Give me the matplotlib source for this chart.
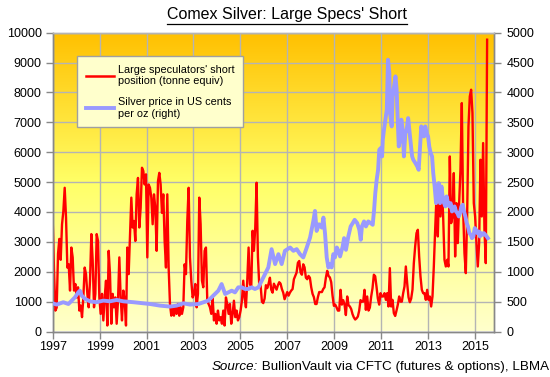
import numpy as np
import matplotlib
matplotlib.use("Agg")
import matplotlib.pyplot as plt
from matplotlib.colors import LinearSegmentedColormap
from matplotlib.lines import Line2D

plt.rcParams['font.family'] = ['Liberation Sans', 'DejaVu Sans']

# ---------------- data ----------------
title = "Comex Silver: Large Specs' Short"
red_label = "Large speculators' short\nposition (tonne equiv)"
blue_label = "Silver price in US cents\nper oz (right)"
source_italic = "Source:"
source_rest = " BullionVault via CFTC (futures & options), LBMA"

# Large speculators' short position (tonnes), roughly 3-weekly from start of 1997
red_start = 1997.0
red_step = 0.0568
red_vals = [
    # 1997 - early 2003
    3750, 2030, 700, 800, 2600, 3100, 2400, 3590, 4030, 4810,
    3810, 2140, 2250, 1370, 2810, 2480, 1370, 1590, 1140, 1480,
    700, 870, 480, 1140, 2140, 1920, 1260, 810, 1700, 3260,
    2370, 810, 1260, 3260, 3030, 1140, 590, 1260, 370, 1140,
    1700, 200, 2700, 1920, 260, 1260, 810, 1140, 260, 1030,
    2480, 1140, 370, 1370, 1030, 200, 2810, 1920, 3150, 4480,
    3480, 3700, 3030, 4590, 5140, 3480, 4140, 5480, 5370, 4920,
    5260, 2480, 4920, 4810, 4480, 3590, 4590, 4140, 2700, 5030,
    5310, 4920, 3970, 4590, 3030, 2140, 4590, 2140, 920, 530,
    810, 530, 810, 590, 920, 530, 810, 590, 810, 2250,
    1920, 3700, 4810, 2480, 1700, 1140, 1260, 1590, 810, 1260,
    # 2003 - 2009
    4480, 3590, 1700, 1480, 2700, 2810, 1030, 920, 810, 590,
    1140, 370, 590, 260, 700, 370, 480, 260, 700, 200,
    1140, 920, 590, 920, 260, 590, 1030, 480, 700, 370,
    480, 700, 1030, 1700, 1140, 810, 1700, 2810, 1590, 1480,
    3370, 2700, 3480, 4980, 2500, 1550, 1550, 1000, 950, 1100,
    1550, 1450, 1600, 1800, 1400, 1300, 1600, 1500, 1400, 1550,
    1650, 1600, 1420, 1300, 1080, 1200, 1320, 1200, 1300, 1370,
    1420, 1750, 1860, 1970, 2300, 2360, 1980, 1900, 2250, 2150,
    1800, 1750, 1860, 1800, 1480, 1260, 1150, 920, 920, 1150,
    1320, 1320, 1320, 1420, 1480, 1800, 2030, 1860, 1810, 1650,
    1200, 860, 900, 810, 700, 700,
    # 2009 - 2015
    1395, 900, 1050, 900, 550, 1172, 880, 837, 750, 580,
    470, 400, 440, 502, 700, 1050, 1000, 1000, 1395, 725,
    1172, 700, 800, 1172, 1450, 1900, 1850, 1500, 1100, 900,
    1283, 1172, 1172, 1283, 1060, 1283, 837, 2121, 837, 1060,
    614, 520, 700, 900, 1172, 1000, 1000, 1283, 1507, 2176,
    1618, 1150, 980, 1100, 1400, 2288, 2846, 3292, 3404, 2511,
    1842, 1395, 1283, 1283, 1060, 1395, 1060, 1172, 837, 1172,
    2176, 3404, 4520, 3181, 4967, 3850, 4855, 3850, 2400, 2176,
    2400, 2176, 5859, 3627, 3850, 5301, 2511, 4297, 2958, 4297,
    5413, 7645, 4074, 2623, 1953, 3850, 6864, 7868, 8092, 7310,
    4297, 3850, 2958, 2176, 2958, 5748, 3850, 6306, 3404, 2288,
    9766,
]

# Silver price, US cents per oz
blue_years = [
    1997.00, 1997.17, 1997.45, 1997.67, 1997.81, 1997.95, 1998.09, 1998.16,
    1998.24, 1998.38, 1998.59, 1998.87, 1999.16, 1999.44, 1999.73, 2000.01,
    2000.44, 2000.86, 2001.15, 2001.57, 2002.00, 2002.28, 2002.57, 2002.85,
    2003.21, 2003.63, 2003.92, 2004.06, 2004.20, 2004.35, 2004.49, 2004.63,
    2004.77, 2004.91, 2005.06, 2005.20, 2005.34, 2005.48, 2005.62, 2005.77,
    2005.91, 2006.05, 2006.19, 2006.33, 2006.48, 2006.62, 2006.76, 2006.90,
    2007.12, 2007.26, 2007.40, 2007.54, 2007.68, 2007.83, 2007.97, 2008.11,
    2008.18, 2008.25, 2008.35, 2008.47, 2008.54, 2008.61, 2008.68, 2008.75,
    2008.82, 2008.89, 2008.96, 2009.03, 2009.11, 2009.18,
    2009.25, 2009.36, 2009.42, 2009.50, 2009.60, 2009.70, 2009.79, 2009.87,
    2009.98, 2010.07, 2010.13, 2010.18, 2010.27, 2010.35, 2010.45, 2010.55,
    2010.64, 2010.70, 2010.75, 2010.81, 2010.87, 2010.92, 2010.98, 2011.04,
    2011.07, 2011.12, 2011.18, 2011.24, 2011.29, 2011.35, 2011.38, 2011.45,
    2011.49, 2011.55, 2011.61, 2011.66, 2011.69, 2011.75, 2011.80, 2011.86,
    2011.92, 2011.97, 2012.03, 2012.09, 2012.15, 2012.20, 2012.26, 2012.32,
    2012.37, 2012.46, 2012.54, 2012.60, 2012.66, 2012.71, 2012.77, 2012.83,
    2012.88, 2012.94, 2013.00, 2013.05, 2013.11, 2013.17, 2013.22, 2013.28,
    2013.34, 2013.39, 2013.45, 2013.51, 2013.57, 2013.62, 2013.68, 2013.74,
    2013.79, 2013.85, 2013.91, 2013.96, 2014.02, 2014.08, 2014.13, 2014.19,
    2014.25, 2014.31, 2014.36, 2014.42, 2014.48, 2014.53, 2014.59, 2014.65,
    2014.70, 2014.76, 2014.82, 2014.87, 2014.93, 2014.99, 2015.04, 2015.10,
    2015.16, 2015.21, 2015.27, 2015.33, 2015.38, 2015.44, 2015.50, 2015.55,
]
blue_vals = [
    472, 450, 490, 460, 517, 572, 655, 683,
    600, 545, 505, 490, 517, 505, 528, 505,
    490, 472, 460, 433, 417, 433, 472, 450,
    460, 517, 628, 683, 794, 628, 655, 683,
    655, 739, 739, 711, 711, 739, 711, 739,
    850, 961, 1072, 1378, 1128, 1294, 1128, 1350,
    1406, 1350, 1378, 1294, 1239, 1406, 1572, 1850,
    2017, 1683, 1794, 1739, 1906, 1628, 1239, 1072,
    1128, 1072, 1294, 1239, 1406, 1350,
    1256, 1423, 1562, 1367, 1590, 1758, 1814, 1869,
    1814, 1702, 1535, 1758, 1842, 1758, 1842, 1814,
    1786, 2037, 2316, 2539, 2706, 3041, 3069, 2930,
    3209, 3376, 3544, 3711, 4548, 4325, 3655, 3432,
    3934, 4102, 4269, 4046, 3711, 3097, 3209, 3544,
    3376, 2930, 3320, 3376, 3571, 3376, 3153, 2930,
    2874, 2818, 2762, 2706, 3097, 3432, 3320, 3264,
    3432, 3320, 3264, 3097, 2986, 2930, 2651, 2427,
    2148, 2260, 2483, 2148, 2427, 2260, 2148, 2093,
    2260, 2148, 2093, 2148, 2009, 2037, 2093, 2009,
    1981, 1925, 1981, 2093, 2121, 2009, 1925, 1814,
    1758, 1646, 1618, 1562, 1590, 1730, 1702, 1646,
    1674, 1590, 1646, 1618, 1646, 1618, 1590, 1562,
]

x_ticks = [1997, 1999, 2001, 2003, 2005, 2007, 2009, 2011, 2013, 2015]
left_ticks = [0, 1000, 2000, 3000, 4000, 5000, 6000, 7000, 8000, 9000, 10000]
right_ticks = [0, 500, 1000, 1500, 2000, 2500, 3000, 3500, 4000, 4500, 5000]

red_years = red_start + np.arange(len(red_vals)) * red_step

# ---------------- figure ----------------
W, H = 550, 377
fig = plt.figure(figsize=(W / 100, H / 100), dpi=100)
fig.patch.set_facecolor('white')
ax = fig.add_axes([52.7 / W, 1 - 331.5 / H, (494 - 52.7) / W, (331.5 - 32.7) / H])
ax2 = ax.twinx()

# gradient background
cmap = LinearSegmentedColormap.from_list(
    'bg', [(0.0, '#FFFFCC'), (0.5, '#FFFF66'), (1.0, '#FFC000')])
grad = np.linspace(0, 1, 256).reshape(-1, 1)
ax.imshow(grad, aspect='auto', cmap=cmap, origin='lower',
          extent=[0, 1, 0, 1], transform=ax.transAxes, zorder=0)

ax.set_xlim(1997, 2015.81)
ax.set_ylim(0, 10000)
ax2.set_ylim(0, 5000)

grid_c = '#B4B4B4'
for xt in x_ticks:
    ax.axvline(xt, color=grid_c, lw=1.0, zorder=1)
for yt in left_ticks:
    ax.axhline(yt, color=grid_c, lw=1.0, zorder=1)

ax.plot(red_years, red_vals, color='#FF0000', lw=1.7, zorder=3,
        solid_joinstyle='round')
ax2.plot(blue_years, blue_vals, color='#9999FF', lw=2.8, zorder=3,
         solid_joinstyle='round')

ax.set_xticks(x_ticks)
ax.set_xticklabels([str(t) for t in x_ticks])
ax.set_yticks(left_ticks)
ax.set_yticklabels([str(t) for t in left_ticks])
ax2.set_yticks(right_ticks)
ax2.set_yticklabels([str(t) for t in right_ticks])

spine_c = '#888888'
for a in (ax, ax2):
    for s in a.spines.values():
        s.set_color(spine_c)
        s.set_linewidth(1.0)
    a.tick_params(direction='out', length=5, width=1, color=spine_c,
                  labelsize=9, labelcolor='#000000', pad=2)
ax2.spines['top'].set_color(grid_c)
ax.spines['top'].set_color(grid_c)
ax.tick_params(axis='y', pad=3)
ax2.tick_params(axis='y', pad=4)
ax2.patch.set_visible(False)

# legend
handles = [Line2D([], [], color='#FF0000', lw=1.8),
           Line2D([], [], color='#9999FF', lw=2.8)]
leg = ax2.legend(handles, [red_label, blue_label], loc='upper left',
                 bbox_to_anchor=((77 - 52.7) / 441.3, (331.5 - 56) / 298.8),
                 borderaxespad=0, fontsize=7.8, frameon=True, fancybox=False,
                 facecolor='#FFFFCC', edgecolor='#A0A0A0', framealpha=1,
                 handlelength=2.6, handletextpad=0.35, labelspacing=1.0,
                 borderpad=0.8)
leg.get_frame().set_linewidth(1.0)
leg.set_zorder(10)

# title with underline
t = fig.text(287 / W, 1 - 15 / H, title, ha='center', va='center',
             fontsize=11.5, color='#000000')
# source line
src = fig.text(549 / W, 1 - 367 / H, source_rest, ha='right', va='center',
               fontsize=9.6, color='#000000')
fig.canvas.draw()
r = fig.canvas.get_renderer()
bb = t.get_window_extent(r)
uy = bb.y0 - 1.5
fig.add_artist(Line2D([bb.x0 / W, bb.x1 / W], [uy / H, uy / H],
                      transform=fig.transFigure, color='black', lw=0.9))
sb = src.get_window_extent(r)
fig.text(sb.x0 / W, 1 - 367 / H, source_italic, ha='right', va='center',
         fontsize=9.6, style='italic', color='#000000')

fig.savefig('out.png', dpi=100)
